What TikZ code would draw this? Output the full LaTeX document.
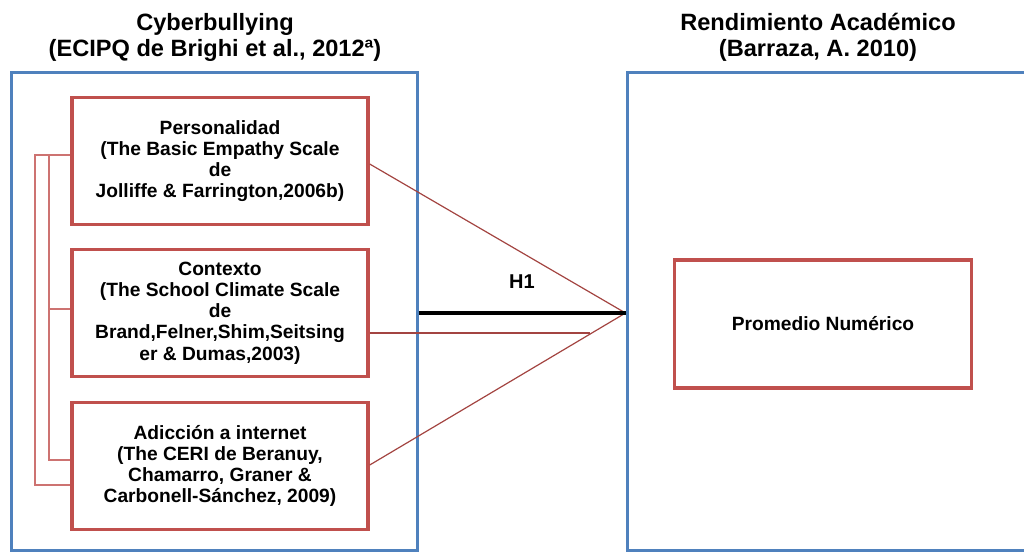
\documentclass[tikz,border=0pt]{standalone}
\usepackage{fontspec}
\setmainfont{Liberation Sans}
\usetikzlibrary{arrows}

\definecolor{frameblue}{RGB}{79,129,189}
\definecolor{boxred}{RGB}{192,80,77}

\begin{document}
\begin{tikzpicture}[x=0.5pt,y=-0.5pt,
    frame/.style={draw=frameblue, line width=1.5pt, rectangle, minimum width=203pt, minimum height=239pt, inner sep=0pt},
    factor/.style={draw=boxred, line width=1.7pt, rectangle, minimum width=148pt, minimum height=63.5pt, inner sep=0pt,
                   align=center, font=\bfseries\fontsize{9.6}{10.6}\selectfont},
    title/.style={align=center, font=\bfseries\fontsize{11.8}{13}\selectfont},
    link/.style={draw=boxred!85!black, line width=0.6pt},
    brace/.style={draw=boxred!80, line width=0.6pt}]
        \useasboundingbox (0,0) rectangle (1024,554);
        \clip (0,0) rectangle (1024,554);

        \node[title] (titleL) at (215,37) {Cyberbullying\\(ECIPQ de Brighi et al., 2012ª)};
        \node[title] (titleR) at (818,37) {Rendimiento Académico\\(Barraza, A. 2010)};

        \node[frame] (frameL) at (214,311) {};
        \node[frame, minimum width=210pt] (frameR) at (837,311) {};

        \node[factor] (pers) at (220,161) {Personalidad\\(The Basic Empathy Scale\\de\\Jolliffe \& Farrington,2006b)};
        \node[factor] (cont) at (220,313) {Contexto\\(The School Climate Scale\\de\\Brand,Felner,Shim,Seitsing\\er \& Dumas,2003)};
        \node[factor] (adic) at (220,466) {Adicción a internet\\(The CERI de Beranuy,\\Chamarro, Graner \&\\Carbonell-Sánchez, 2009)};
        \node[factor, minimum width=148.5pt, minimum height=64pt] (prom) at (823,324) {Promedio Numérico};

        \coordinate (apex) at (frameR.west |- 0,313);
        \coordinate (join) at (590,333);

        % corchete de la izquierda
        \draw[brace] (pers.west |- 0,155) -- (35,155) -- (35,485) -- (adic.west |- 0,485);
        \draw[brace] (49,155) -- (49,460) -- (adic.west |- 0,460);
        \draw[brace] (49,309) -- (cont.west |- 0,309);

        % lineas hacia la variable dependiente
        \draw[link] (pers.east |- 0,164) -- (apex);
        \draw[link] (cont.east |- 0,333) -- (join);
        \draw[link] (adic.east |- 0,465) -- (apex);

        \draw[line width=1.8pt] (frameL.east |- apex) -- node[above=8pt, font=\bfseries\fontsize{10}{12}\selectfont] (h1) {H1} (apex);
    \end{tikzpicture}
\end{document}
